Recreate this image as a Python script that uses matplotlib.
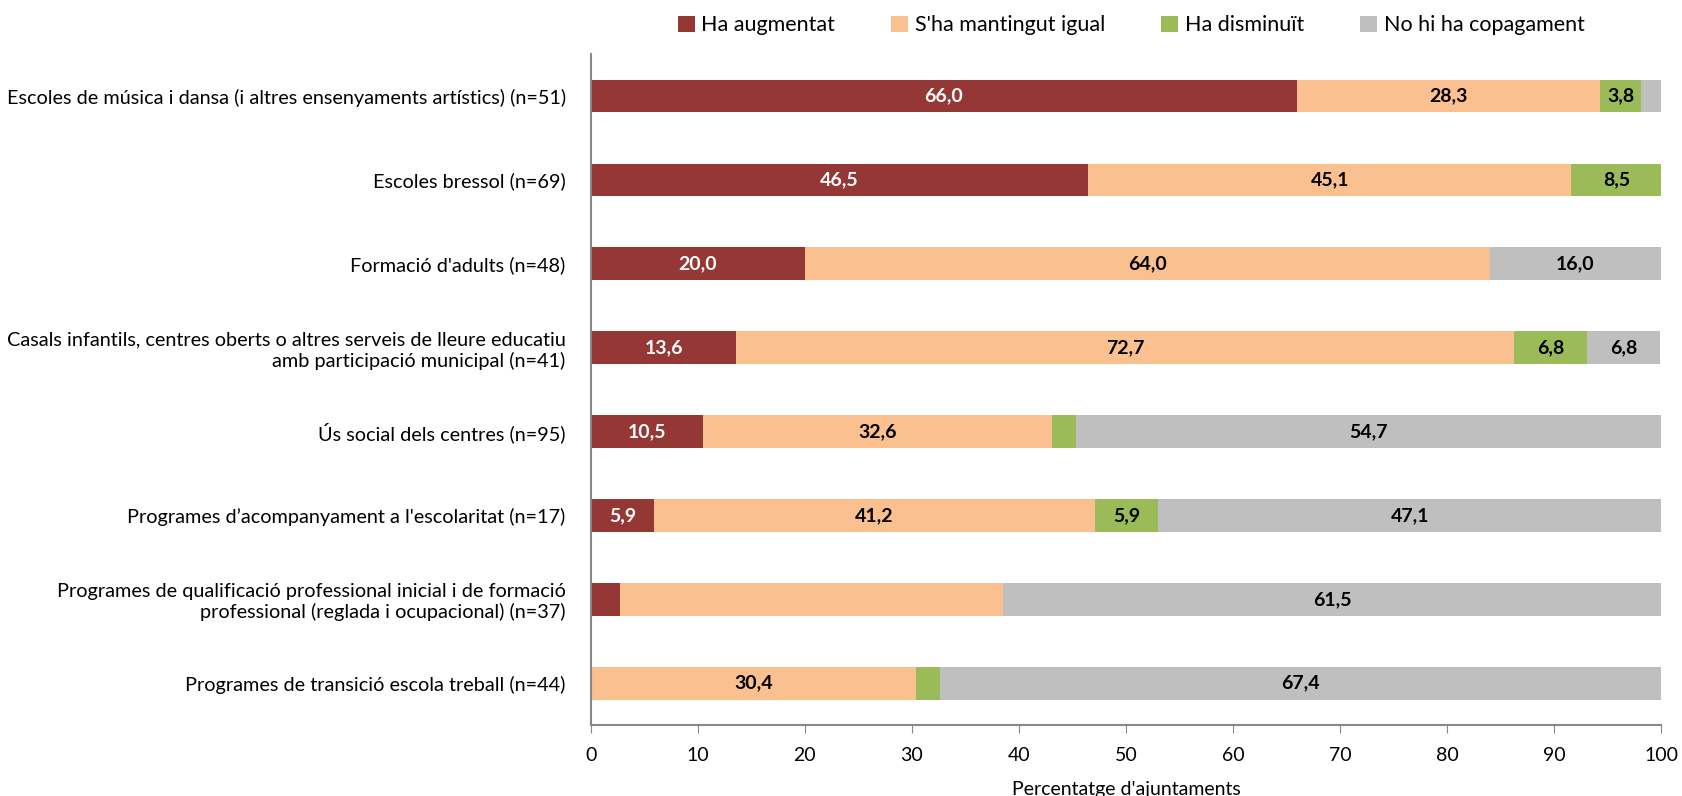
import numpy as np
import matplotlib.pyplot as plt

plt.rcParams['font.family'] = ['Lato', 'DejaVu Sans']

categories = [
    "Escoles de música i dansa (i altres ensenyaments artístics) (n=51)",
    "Escoles bressol (n=69)",
    "Formació d'adults (n=48)",
    "Casals infantils, centres oberts o altres serveis de lleure educatiu\namb participació municipal (n=41)",
    "Ús social dels centres (n=95)",
    "Programes d’acompanyament a l'escolaritat (n=17)",
    "Programes de qualificació professional inicial i de formació\nprofessional (reglada i ocupacional) (n=37)",
    "Programes de transició escola treball (n=44)",
]
augmentat = [66.0, 46.5, 20.0, 13.6, 10.5, 5.9, 2.7, 0.0]
mantingut = [28.3, 45.1, 64.0, 72.7, 32.6, 41.2, 35.8, 30.4]
disminuit = [3.8, 8.5, 0.0, 6.8, 2.2, 5.9, 0.0, 2.2]
no_copag = [1.9, 0.0, 16.0, 6.8, 54.7, 47.1, 61.5, 67.4]
# which segments carry a data label
show_aug = [1, 1, 1, 1, 1, 1, 0, 0]
show_man = [1, 1, 1, 1, 1, 1, 0, 1]
show_dis = [1, 1, 0, 1, 0, 1, 0, 0]
show_no = [0, 0, 1, 1, 1, 1, 1, 1]

series = [
    ("Ha augmentat", augmentat, show_aug, "#953735", "white"),
    ("S'ha mantingut igual", mantingut, show_man, "#FAC090", "black"),
    ("Ha disminuït", disminuit, show_dis, "#9BBB59", "black"),
    ("No hi ha copagament", no_copag, show_no, "#BFBFBF", "black"),
]

fig = plt.figure(figsize=(16.83, 7.96), dpi=100)
ax = fig.add_axes([0.351, 0.089, 0.636, 0.843])

y = np.arange(len(categories))
left = np.zeros(len(categories))
for name, vals, show, color, tcol in series:
    vals = np.array(vals)
    ax.barh(y, vals, left=left, height=0.39, color=color, label=name)
    for i, v in enumerate(vals):
        if show[i]:
            ax.text(left[i] + v / 2, y[i], f"{v:.1f}".replace(".", ","),
                    ha='center', va='center', color=tcol,
                    fontsize=14, fontweight='bold')
    left += vals

ax.set_xlim(0, 100)
ax.set_ylim(len(categories) - 0.5, -0.5)
ax.set_xticks(np.arange(0, 101, 10))
ax.set_yticks(y)
ax.set_yticklabels(categories, fontsize=14.3)
ax.tick_params(axis='y', length=0, pad=18)
ax.tick_params(axis='x', length=6, color='#888888', labelsize=14, pad=10)
for s in ['top', 'right']:
    ax.spines[s].set_visible(False)
for s in ['left', 'bottom']:
    ax.spines[s].set_color('#888888')
    ax.spines[s].set_linewidth(1.5)
ax.set_xlabel("Percentatge d'ajuntaments", fontsize=14, labelpad=12)

fig.legend(loc='upper center', bbox_to_anchor=(0.672, 1.005), ncol=4,
           frameon=False, fontsize=15.5, handlelength=0.8, handleheight=0.8,
           columnspacing=2.6, handletextpad=0.3)

fig.savefig("out.png", dpi=100)
